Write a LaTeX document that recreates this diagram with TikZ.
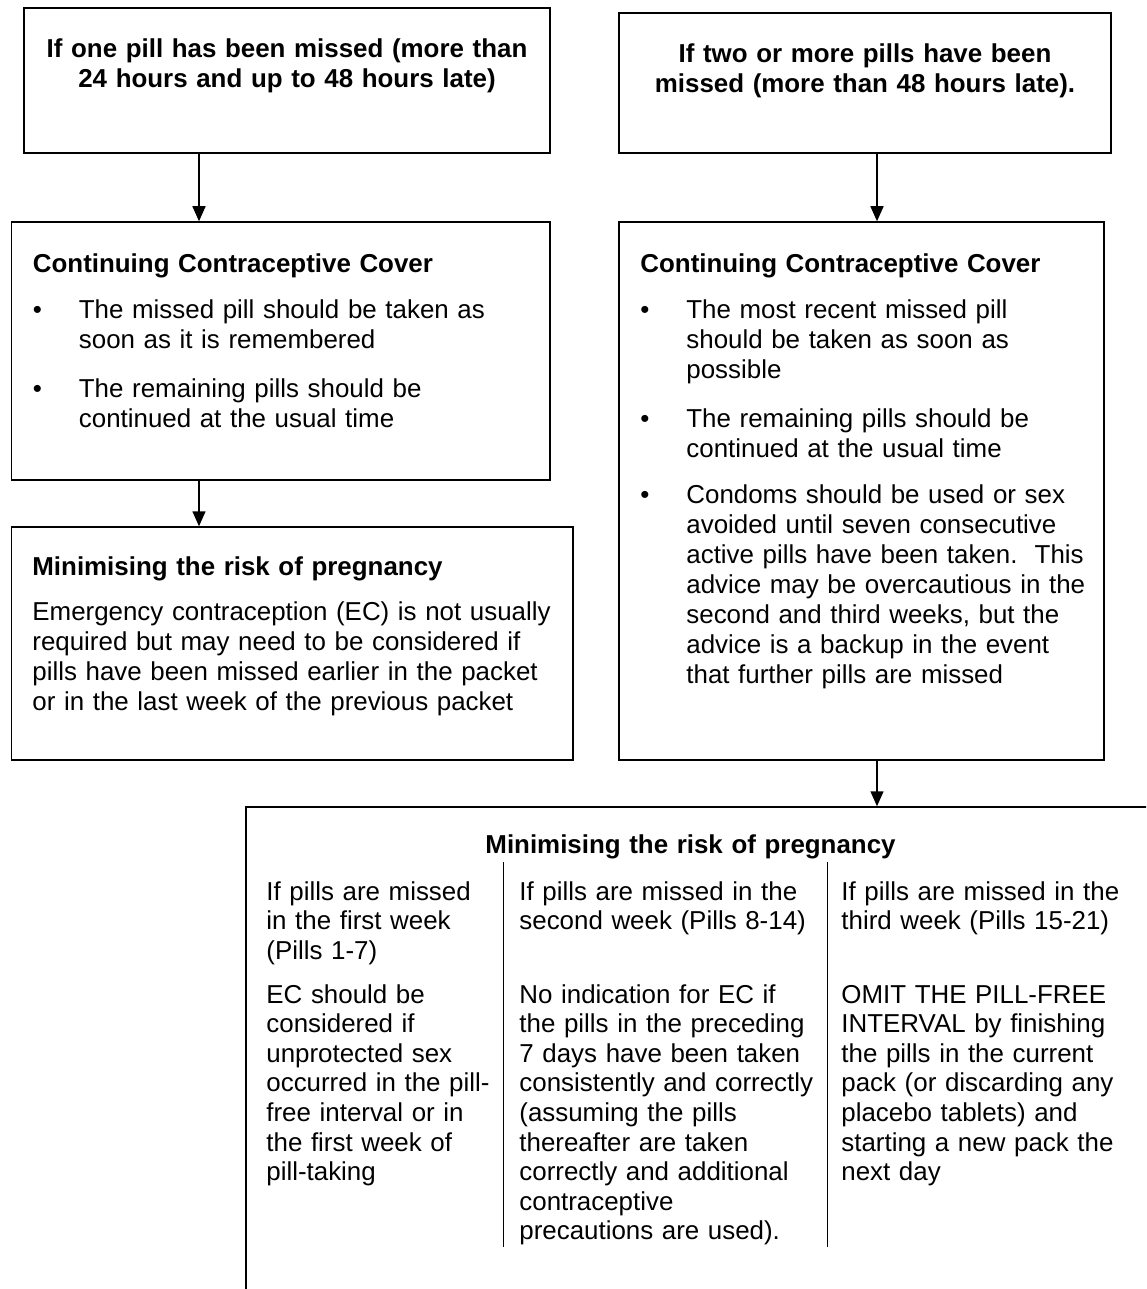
\documentclass[tikz,border=0pt]{standalone}
\usepackage{fontspec}
\setmainfont{Liberation Sans}
\usetikzlibrary{positioning,arrows.meta,fit}

\begin{document}
\begin{tikzpicture}[
		x=0.5pt, y=-0.5pt,
		panel/.style={draw, line width=0.75pt, inner sep=0pt},
		headtext/.style={
			anchor=base,
			align=center,
			text width=270pt,
			inner sep=0pt,
			font=\fontsize{12.95}{15}\selectfont\bfseries
		},
		bodytext/.style={
			anchor=base west,
			align=left,
			text width=300pt,
			inner sep=0pt,
			font=\fontsize{12.95}{15}\selectfont
		},
		boldtext/.style={bodytext, font=\fontsize{12.95}{15}\selectfont\bfseries},
		celltext/.style={bodytext, text width=160pt, font=\fontsize{12.95}{14.8}\selectfont},
		dot/.style={anchor=base west, inner sep=0pt, font=\fontsize{12.95}{15}\selectfont},
		flow/.style={-{Triangle[length=7.5pt,width=6.5pt]}, line width=0.75pt},
		rule/.style={line width=0.5pt}
	]
		\useasboundingbox (0,0) rectangle (1146,1289);
		\clip (0,0) rectangle (1146,1289);

		\node[panel, fit={(24,8) (550,153)}] (miss1) {};
		\node[panel, fit={(11.5,222) (550,480)}] (cover1) {};
		\node[panel, fit={(11.5,527) (573,760)}] (risk1) {};
		\node[panel, fit={(619,13) (1111,153)}] (miss2) {};
		\node[panel, fit={(619,222) (1104,760)}] (cover2) {};
		\node[panel, fit={(246,807) (1220,1340)}] (risk2) {};

		\node[headtext] (miss1text) at (287,58) {
			If one pill has been missed (more than\\
			24 hours and up to 48 hours late)
		};
		\node[headtext] (miss2text) at (865,63) {
			If two or more pills have been\\
			missed (more than 48 hours late).
		};

		\node[boldtext] (cover1head) at (32.5,272) {Continuing Contraceptive Cover};
		\node[dot] (cover1dotA) at (32.5,318) {\textbullet};
		\node[bodytext] (cover1itemA) at (78.5,318) {
			The missed pill should be taken as\\
			soon as it is remembered
		};
		\node[dot] (cover1dotB) at (32.5,397) {\textbullet};
		\node[bodytext] (cover1itemB) at (78.5,397) {
			The remaining pills should be\\
			continued at the usual time
		};

		\node[boldtext] (risk1head) at (32,575) {Minimising the risk of pregnancy};
		\node[bodytext] (risk1body) at (32,620) {
			Emergency contraception (EC) is not usually\\
			required but may need to be considered if\\
			pills have been missed earlier in the packet\\
			or in the last week of the previous packet
		};

		\node[boldtext] (cover2head) at (640,272) {Continuing Contraceptive Cover};
		\node[dot] (cover2dotA) at (640,318) {\textbullet};
		\node[bodytext] (cover2itemA) at (686,318) {
			The most recent missed pill\\
			should be taken as soon as\\
			possible
		};
		\node[dot] (cover2dotB) at (640,427) {\textbullet};
		\node[bodytext] (cover2itemB) at (686,427) {
			The remaining pills should be\\
			continued at the usual time
		};
		\node[dot] (cover2dotC) at (640,503) {\textbullet};
		\node[bodytext] (cover2itemC) at (686,503) {
			Condoms should be used or sex\\
			avoided until seven consecutive\\
			active pills have been taken.\ \ This\\
			advice may be overcautious in the\\
			second and third weeks, but the\\
			advice is a backup in the event\\
			that further pills are missed
		};

		\node[headtext] (risk2head) at (690.5,853) {Minimising the risk of pregnancy};
		\node[celltext] (weekonehead) at (266,900) {
			If pills are missed\\
			in the first week\\
			(Pills 1-7)
		};
		\node[celltext] (weekonebody) at (266,1003) {
			EC should be\\
			considered if\\
			unprotected sex\\
			occurred in the pill-\\
			free interval or in\\
			the first week of\\
			pill-taking
		};
		\node[celltext] (weektwohead) at (519,900) {
			If pills are missed in the\\
			second week (Pills 8-14)
		};
		\node[celltext] (weektwobody) at (519,1003) {
			No indication for EC if\\
			the pills in the preceding\\
			7 days have been taken\\
			consistently and correctly\\
			(assuming the pills\\
			thereafter are taken\\
			correctly and additional\\
			contraceptive\\
			precautions are used).
		};
		\node[celltext] (weekthreehead) at (841,900) {
			If pills are missed in the\\
			third week (Pills 15-21)
		};
		\node[celltext] (weekthreebody) at (841,1003) {
			OMIT THE PILL-FREE\\
			INTERVAL by finishing\\
			the pills in the current\\
			pack (or discarding any\\
			placebo tablets) and\\
			starting a new pack the\\
			next day
		};

		\foreach \xrule in {503,827.5}
			\draw[rule] (\xrule,862) -- (\xrule,1247);

		\coordinate (leftstem) at (199,0);
		\coordinate (rightstem) at (877,0);
		\draw[flow] (miss1.south -| leftstem) -- (cover1.north -| leftstem);
		\draw[flow] (cover1.south -| leftstem) -- (risk1.north -| leftstem);
		\draw[flow] (miss2.south -| rightstem) -- (cover2.north -| rightstem);
		\draw[flow] (cover2.south -| rightstem) -- (risk2.north -| rightstem);
	\end{tikzpicture}
\end{document}
